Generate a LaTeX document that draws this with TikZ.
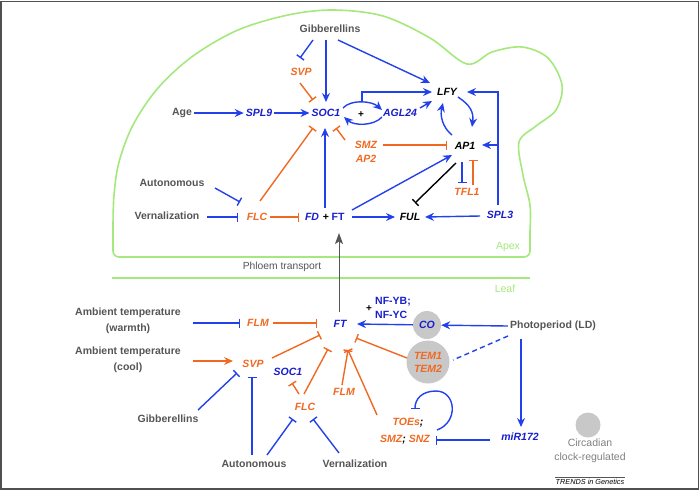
\documentclass[tikz,border=0pt]{standalone}
\usepackage{fontspec}
\setmainfont{Liberation Sans}
\usetikzlibrary{arrows.meta}
\definecolor{lblue}{RGB}{35,65,235}
\definecolor{gblue}{RGB}{25,30,205}
\definecolor{lorange}{RGB}{240,105,35}
\definecolor{tgrey}{RGB}{85,85,85}
\definecolor{lgreen}{RGB}{165,232,125}
\definecolor{cgrey}{RGB}{200,200,200}
\definecolor{frame}{RGB}{80,80,80}
\tikzset{
 lbl/.style={font=\fontsize{10.5}{12}\selectfont\bfseries\itshape, inner sep=2pt},
 gb/.style={lbl, text=gblue},
 go/.style={lbl, text=lorange},
 gk/.style={lbl, text=black},
 envt/.style={font=\fontsize{10.5}{16.5}\selectfont\bfseries, text=tgrey, inner sep=2pt, align=center},
 act/.style={draw=lblue, line width=1.4pt, -{Stealth[length=9pt,width=8pt,inset=3pt]}},
 actO/.style={act, draw=lorange},
 inh/.style={draw=lblue, line width=1.4pt, -{Bar[width=9pt]}},
 inhO/.style={inh, draw=lorange},
 inhK/.style={inh, draw=black},
 phl/.style={draw=tgrey, line width=1pt, -{Stealth[length=11pt,width=8pt,inset=2.5pt]}},
}
\begin{document}
\begin{tikzpicture}[x=1pt,y=-1pt]
\useasboundingbox (0,0) rectangle (700,491);
\draw[frame, line width=1.5pt] (0.75,1.5) rectangle (698.5,489.2);

% apex outline
\draw[lgreen, line width=1.6pt, rounded corners=6pt] (530,230) -- (530,257) -- (113,257) -- (113,225);
\draw[lgreen, line width=1.6pt] plot[smooth, tension=0.55] coordinates {(113,226) (114,195) (119,162) (133,125) (158,88) (193,56) (238,30) (288,15) (333,10) (383,16) (430,38) (467,64) (492,52) (522,47) (548,58) (562,85) (556,110) (536,126) (519,142) (523,175) (530,205) (530,231)};
\draw[lgreen, line width=1.6pt] (112,278) -- (530,278);
\node[text=lgreen, font=\fontsize{10.5}{12}\selectfont] (apexl) at (508,247) {Apex};
\node[text=lgreen, font=\fontsize{10.5}{12}\selectfont] (leafl) at (505,289) {Leaf};
\node[text=tgrey, font=\fontsize{10.3}{12}\selectfont] (phloem) at (282,267) {Phloem transport};

% apex nodes
\node[envt] (gibA) at (330,29) {Gibberellins};
\node[go] (svpA) at (301,72) {SVP};
\node[envt] (age) at (182,113) {Age};
\node[gb] (spl9) at (259,113) {SPL9};
\node[gb] (soc1A) at (326,113) {SOC1};
\node[gb] (agl24) at (400,113) {AGL24};
\node[gk] (lfy) at (447,92) {LFY};
\node[gk] (ap1) at (465,146) {AP1};
\node[go] (smz) at (366,145) {SMZ};
\node[go] (ap2) at (366,159) {AP2};
\node[go] (tfl1) at (467,192) {TFL1};
\node[envt] (autA) at (172,183) {Autonomous};
\node[envt] (verA) at (167,216) {Vernalization};
\node[go] (flcA) at (257,217) {FLC};
\node[gb] (fd) at (312,217) {FD};
\node[lbl, font=\fontsize{10.5}{12}\selectfont\bfseries] (plusA) at (326,217) {+};
\node[lbl, font=\fontsize{10.5}{12}\selectfont\bfseries, text=gblue] (ftA) at (338,217) {FT};
\node[gk] (ful) at (410,217) {FUL};
\node[gb] (spl3) at (500,215) {SPL3};
\node[font=\fontsize{10}{12}\selectfont\bfseries] (plus1) at (361,115) {+};
\coordinate (arctop) at (362,102);
\coordinate (sp3j) at (498,145);

% apex connectors
\draw[inh] ([shift={(-17,11)}]gibA.center) -- ([shift={(-1,-14)}]svpA.center);
\draw[act] ([shift={(-4,11)}]gibA.center) -- ([shift={(0,-11)}]soc1A.center);
\draw[act] ([shift={(8,11)}]gibA.center) -- ([shift={(-17,-9)}]lfy.center);
\draw[inhO] ([shift={(-1,11)}]svpA.center) -- ([shift={(-13,-13)}]soc1A.center);
\draw[act] (age) -- (spl9);
\draw[act] (spl9) -- (soc1A);
\draw[act] ([shift={(17,-5)}]soc1A.center) .. controls +(8,-9) and +(-10,-9) .. ([shift={(-18,-3)}]agl24.center);
\draw[act] ([shift={(-18,4)}]agl24.center) .. controls +(-8,9) and +(10,9) .. ([shift={(18,4)}]soc1A.center);
\draw[act] (arctop) |- ([shift={(-15,0)}]lfy.center);
\draw[act] ([shift={(20,-5)}]agl24.center) -- ([shift={(-15,9)}]lfy.center);
\draw[act] ([shift={(11,5)}]lfy.center) .. controls +(12,8) and +(2,-15) .. ([shift={(7,-19)}]ap1.center);
\draw[act] ([shift={(-13,-11)}]ap1.center) .. controls +(-10,-8) and +(-3,12) .. ([shift={(-4,11)}]lfy.center);
\draw[inhO] ([shift={(17,0)}]smz.center) -- ([shift={(-18,-1)}]ap1.center);
\draw[inhO] ([shift={(-21,-5)}]smz.center) -- ([shift={(10,15)}]soc1A.center);
\draw[act] ([shift={(14,-7)}]ftA.center) -- ([shift={(-13,9)}]ap1.center);
\draw[inhK] ([shift={(-9,17)}]ap1.center) -- ([shift={(5,-14)}]ful.center);
\draw[inh] ([shift={(-3,16)}]ap1.center) -- ([shift={(-5,-9)}]tfl1.center);
\draw[inhO] ([shift={(6,-7)}]tfl1.center) -- ([shift={(8,14)}]ap1.center);
\draw[act] ([shift={(-2,-10)}]spl3.center) |- ([shift={(20,0)}]lfy.center);
\draw[act] (sp3j) -- ([shift={(17,-1)}]ap1.center);
\draw[act] ([shift={(-20,1)}]spl3.center) -- ([shift={(15,0)}]ful.center);
\draw[act] ([shift={(14,0)}]ftA.center) -- ([shift={(-15,0)}]ful.center);
\draw[act] ([shift={(-1,-9)}]plusA.center) -- ([shift={(-1,15)}]soc1A.center);
\draw[inhO] ([shift={(3,-16)}]flcA.center) -- ([shift={(-13,15)}]soc1A.center);
\draw[inhO] ([shift={(13,0)}]flcA.center) -- ([shift={(-13,0)}]fd.center);
\draw[inh] ([shift={(43,5)}]autA.center) -- ([shift={(-17,-15)}]flcA.center);
\draw[inh] ([shift={(40,1)}]verA.center) -- ([shift={(-19,0)}]flcA.center);

% leaf nodes
\node[envt] (ambW) at (128,321) {Ambient temperature\\(warmth)};
\node[envt] (ambC) at (128,360) {Ambient temperature\\(cool)};
\node[go] (flm1) at (258,323) {FLM};
\node[gb] (ftL) at (340,324) {FT};
\node[lbl, font=\fontsize{10.5}{14}\selectfont\bfseries, text=gblue, align=left] (nfy) at (393,308) {NF-YB;\\NF-YC};
\node[font=\fontsize{10}{12}\selectfont\bfseries] (plus2) at (369,309) {+};
\node[circle, fill=cgrey, minimum size=28pt, inner sep=0pt, lbl, text=gblue] (co) at (427,325) {CO};
\node[envt] (photo) at (553,326) {Photoperiod (LD)};
\node[circle, fill=cgrey, minimum size=43pt, inner sep=0pt, lbl, text=lorange, align=center, font=\fontsize{10.5}{13}\selectfont\bfseries\itshape] (tem) at (428,362) {TEM1\\TEM2};
\node[go] (svpL) at (253,364) {SVP};
\node[gb] (soc1L) at (288,372) {SOC1};
\node[go] (flm2) at (344,392) {FLM};
\node[go] (flcL) at (305,407) {FLC};
\node[envt] (gibL) at (168,419) {Gibberellins};
\node[go] (toes) at (408,423) {TOEs\textcolor{black}{;}};
\node[go] (smzsnz) at (405,440) {SMZ\textcolor{black}{;} SNZ};
\node[gb] (mir) at (520,437) {miR172};
\node[envt] (autL) at (254,464) {Autonomous};
\node[envt] (verL) at (355,464) {Vernalization};
\node[circle, fill=cgrey, minimum size=25pt, inner sep=0pt] (circ) at (588,425) {};
\node[text=tgrey!75, font=\fontsize{10.5}{14}\selectfont, align=center] (circt) at (590,451) {Circadian\\clock-regulated};
\node[font=\fontsize{7.3}{9}\selectfont\itshape, inner sep=1pt] (trends) at (590,481.5) {TRENDS in Genetics};
\draw[tgrey, line width=0.6pt] (trends.north west) ++(0,-0.5) -- ([yshift=0.5pt]trends.north east);
\coordinate (looptop) at (436,391);

% leaf connectors
\draw[phl] ([shift={(-1,-12)}]ftL.center) -- ([shift={(1,16)}]ftA.center);
\draw[inh] ([shift={(65,2)}]ambW.center) -- ([shift={(-18,0)}]flm1.center);
\draw[inhO] ([shift={(15,0)}]flm1.center) -- ([shift={(-23,-1)}]ftL.center);
\draw[act] (co) -- ([shift={(17,0)}]ftL.center);
\draw[act] (photo.west) -- (co);
\draw[lblue, line width=1.4pt, dash pattern=on 5pt off 3.5pt] ([shift={(-45,10)}]photo.center) -- ([shift={(25,-2)}]tem.center);
\draw[act] ([shift={(-32,13)}]photo.center) -- ([shift={(1,-10)}]mir.center);
\draw[inhO] ([shift={(-21,-4)}]tem.center) -- ([shift={(16,14)}]ftL.center);
\draw[actO] ([shift={(65,1)}]ambC.center) -- ([shift={(-20,-3)}]svpL.center);
\draw[inhO] ([shift={(19,-6)}]svpL.center) -- ([shift={(-20,11)}]ftL.center);
\draw[inhO] ([shift={(-1,-13)}]flcL.center) -- ([shift={(-12,25)}]ftL.center);
\draw[inhO] ([shift={(-6,-13)}]flcL.center) -- ([shift={(4,11)}]soc1L.center);
\draw[inhO] ([shift={(-2,-7)}]flm2.center) -- ([shift={(8,26)}]ftL.center);
\draw[inhO] ([shift={(-31,-8)}]toes.center) -- ([shift={(8,26)}]ftL.center);
\draw[inh] ([shift={(30,-9)}]gibL.center) -- ([shift={(-16,9)}]svpL.center);
\draw[inh] ([shift={(-2,-9)}]autL.center) -- ([shift={(-1,13)}]svpL.center);
\draw[inh] ([shift={(13,-9)}]autL.center) -- ([shift={(-12,12)}]flcL.center);
\draw[inh] ([shift={(-16,-11)}]verL.center) -- ([shift={(8,12)}]flcL.center);
\draw[inh] ([shift={(29,7)}]toes.center) .. controls +(22,-8) and +(20,0) .. (looptop) .. controls +(-14,0) and +(0,-10) .. ([shift={(7,-14)}]toes.center);
\draw[inh] ([shift={(-30,3)}]mir.center) -- ([shift={(31,0)}]smzsnz.center);
\end{tikzpicture}
\end{document}
